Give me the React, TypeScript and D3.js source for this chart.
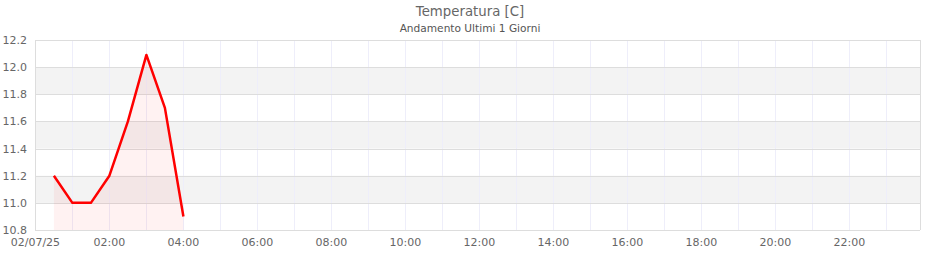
import React from "react";
import * as d3 from "d3";

const title = "Temperatura [C]";
const subtitle = "Andamento Ultimi 1 Giorni";
const times = ["00:30", "01:00", "01:30", "02:00", "02:30", "03:00", "03:30", "04:00"];
const values = [11.2, 11.0, 11.0, 11.2, 11.6, 12.09, 11.7, 10.9];
const yTicks = [10.8, 11.0, 11.2, 11.4, 11.6, 11.8, 12.0, 12.2];
const xTickHours = [0, 2, 4, 6, 8, 10, 12, 14, 16, 18, 20, 22];
const firstLabel = "02/07/25";

const W = 940, H = 260;
const L = 35, R = 920, T = 40, B = 230;
const FONT = "DejaVu Sans, sans-serif";

function toHours(t: string) {
  const [h, m] = t.split(":").map(Number);
  return h + m / 60;
}

export default function App() {
  const x = d3.scaleLinear().domain([0, 24]).range([35.4, 35.4 + 24 * 37]);
  const y = d3.scaleLinear().domain([10.8, 12.2]).range([B, T]);
  const pts: [number, number][] = times.map((t, i) => [toHours(t), values[i]]);
  const line = d3.line<[number, number]>().x(d => x(d[0])).y(d => y(d[1]));
  const area = d3.area<[number, number]>().x(d => x(d[0])).y0(B).y1(d => y(d[1]));
  const bands: [number, number][] = [];
  for (let i = 0; i < yTicks.length - 1; i++) {
    if (i % 2 === 1) bands.push([yTicks[i], yTicks[i + 1]]);
  }
  const hours = d3.range(1, 24);
  return (
    <svg width={W} height={H} style={{ position: "absolute", left: 0, top: 0 }}>
      <rect x={0} y={0} width={W} height={H} fill="#fff" />
      <text x={470} y={16} textAnchor="middle" fontFamily={FONT} fontSize={13.3} fill="#666">{title}</text>
      <text x={470} y={32} textAnchor="middle" fontFamily={FONT} fontSize={10.6} fill="#555">{subtitle}</text>
      {bands.map((b, i) => (
        <rect key={i} x={L} y={y(b[1])} width={R - L} height={y(b[0]) - y(b[1])} fill="#f3f3f3" />
      ))}
      {hours.map(h => (
        <line key={h} x1={Math.round(x(h)) + 0.5} x2={Math.round(x(h)) + 0.5} y1={T} y2={B} stroke="#eeeefa" strokeWidth={1} />
      ))}
      {yTicks.map(v => (
        <line key={v} x1={L} x2={R} y1={Math.round(y(v)) + 0.5} y2={Math.round(y(v)) + 0.5} stroke="#dddddd" strokeWidth={1} />
      ))}
      <line x1={L + 0.5} x2={L + 0.5} y1={T} y2={B} stroke="#dddddd" />
      <line x1={R + 0.5} x2={R + 0.5} y1={T} y2={B} stroke="#dddddd" />
      <path d={area(pts) || ""} fill="rgba(255,0,0,0.05)" />
      <path d={line(pts) || ""} fill="none" stroke="#ff0000" strokeWidth={2.5} strokeLinejoin="round" />
      {yTicks.map(v => (
        <text key={v} x={27} y={y(v) + 4} textAnchor="end" fontFamily={FONT} fontSize={11} fill="#666">{v.toFixed(1)}</text>
      ))}
      {xTickHours.map(h => (
        <text key={h} x={x(h)} y={246} textAnchor="middle" fontFamily={FONT} fontSize={11} fill="#666">
          {h === 0 ? firstLabel : `${String(h).padStart(2, "0")}:00`}
        </text>
      ))}
    </svg>
  );
}
